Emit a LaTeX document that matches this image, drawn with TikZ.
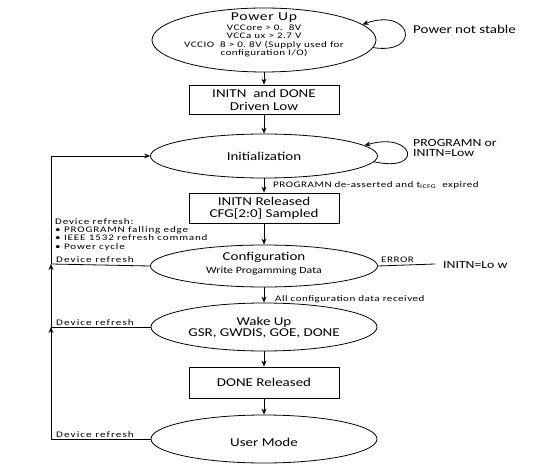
\documentclass[tikz,border=0pt]{standalone}
\usepackage{fontspec}
\setmainfont{Carlito}[FakeStretch=1.25]
\newfontfamily\smf{Carlito}[FakeStretch=1.3,LetterSpace=6]
\newfontfamily\smfw{Carlito}[FakeStretch=1.3,LetterSpace=10]
\newfontfamily\smfx{Carlito}[FakeStretch=1.3,LetterSpace=13]
\usetikzlibrary{shapes.geometric,arrows.meta}
\newcommand\fbig{\fontsize{12}{12}\selectfont}
\newcommand\fmid{\fontsize{11}{11}\selectfont}
\newcommand\fsm{\smf\fontsize{8.5}{8.3}\selectfont}
\newcommand\fsmw{\smfw\fontsize{8.5}{8.3}\selectfont}
\newcommand\fsmx{\smfx\fontsize{8.5}{8.3}\selectfont}
\begin{document}
\begin{tikzpicture}[x=1pt,y=1pt,
  ell/.style={draw, ellipse, inner sep=0pt, line width=0.8pt},
  box/.style={draw, rectangle, inner sep=0pt, line width=0.8pt, minimum width=150pt, align=center, font=\fbig},
  arr/.style={-{Stealth[length=6pt,width=5pt]}, line width=0.8pt},
  ln/.style={line width=0.8pt},
  lbl/.style={inner sep=0pt, align=center, font=\fbig},
  sml/.style={inner sep=0pt, align=left, font=\fsm}]
\useasboundingbox (0,0) rectangle (554,469);
% shapes
\node[ell, minimum width=224pt, minimum height=64pt] (pu) at (264,429) {};
\node[box, minimum height=29pt] (b1) at (264,369.5) {INITN\ \ and DONE\\[1pt]Driven Low};
\node[ell, minimum width=227pt, minimum height=44pt] (init) at (264,313) {};
\node[box, minimum height=30pt] (b2) at (264,261) {INITN Released\\CFG[2:0] Sampled};
\node[ell, minimum width=227pt, minimum height=42pt] (conf) at (264,203) {};
\node[ell, minimum width=226pt, minimum height=48pt] (wake) at (264,142) {};
\node[box, minimum height=31pt] (b3) at (264,86.5) {DONE Released};
\node[ell, minimum width=226pt, minimum height=48pt] (user) at (264,30) {};
% ellipse texts
\node[lbl, font=\fsm] (put) at (264,434) {{\fbig Power Up}\\[1.5pt]VCCore > 0.\ \ 8V\\VCCa\ ux > 2.7\ V\\VCCIO\ \ 8 > 0.\ 8V\ (Supply used for\\configuration I/O)};
\node[lbl] (initt) at (264,313) {Initialization};
\node[lbl] (conft) at (264,205) {Configuration\\[1pt]{\fontsize{9.5}{9.5}\selectfont Write Progamming Data}};
\node[lbl] (waket) at (264,141) {Wake Up\\[-1pt]GSR, GWDIS, GOE, DONE};
\node[lbl] (usert) at (264,27) {User Mode};
% main flow
\draw[arr] (pu) -- (b1);
\draw[arr] (b1) -- (init);
\draw[arr] (init) -- (b2);
\draw[arr] (b2) -- (conf);
\draw[arr] (conf) -- (wake);
\draw[arr] (wake) -- (b3);
\draw[arr] (b3) -- (user);
% self loops
\draw[arr] (pu.-4) .. controls (422,414) and (412,462) .. (pu.9);
\node[lbl, anchor=west] (pns) at (413,440) {Power not stable};
\draw[arr] (init.-3) .. controls (425,296) and (414,338) .. (init.6);
\node[lbl, anchor=west, align=left, font=\fmid] (pinit) at (413,321) {PROGRAMN or\\[-1pt]INITN=Low};
% transition labels
\node[sml, anchor=west] (tl1) at (273,284) {PROGRAMN de-asserted and t\textsubscript{ICFG}\ \ expired};
\node[sml, anchor=west] (tl2) at (275,170) {All configuration data received};
% error
\coordinate (errend) at (435,205);
\draw[ln] (conf.east) -- (errend);
\node[sml, anchor=south west] (errl) at (381,206) {ERROR};
\node[lbl, anchor=west, font=\fmid] (initlow) at (443,204) {INITN=Lo w};
% device refresh loop
\coordinate (cu) at (51,30);
\coordinate (cw) at (51,142);
\coordinate (cc) at (51,205);
\coordinate (ci) at (51,313);
\draw[arr] (user.west) -- (cu) -- (cw);
\draw[ln] (wake.west) -- (cw);
\draw[arr] (cw) -- (cc);
\draw[ln] (conf.west) -- (cc);
\draw[arr] (cc) -- (ci) -- (init.west);
\node[sml, anchor=south west, font=\fsmx] (dr1) at (56,31.5) {Device refresh};
\node[sml, anchor=south west, font=\fsmx] (dr2) at (56,143.5) {Device refresh};
\node[sml, anchor=south west, font=\fsmx] (dr3) at (56,206.5) {Device refresh};
\node[sml, anchor=north west, font=\fsmw] (drl) at (55,251) {Device refresh:\\\textbullet\ PROGRAMN falling edge\\\textbullet\ IEEE 1532 refresh command\\\textbullet\ Power cycle};
\end{tikzpicture}
\end{document}
